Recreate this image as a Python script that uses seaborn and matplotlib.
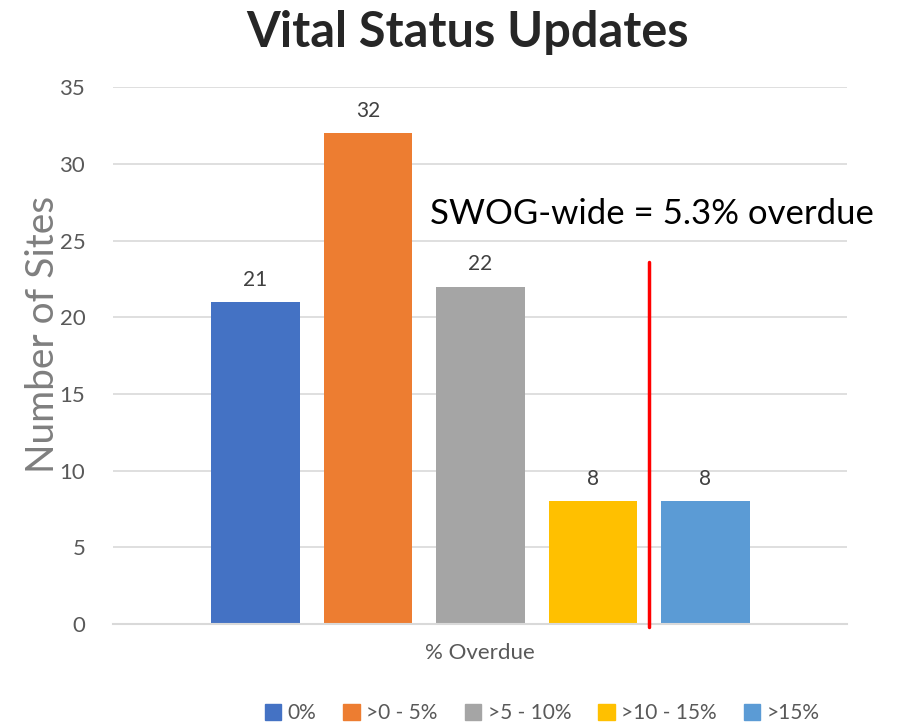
import pandas as pd
import matplotlib.pyplot as plt
import seaborn as sns

categories = ["0%", ">0 - 5%", ">5 - 10%", ">10 - 15%", ">15%"]
sites = [21, 32, 22, 8, 8]
colors = ["#4472C4", "#ED7D31", "#A5A5A5", "#FFC000", "#5B9BD5"]
swog_note = "SWOG-wide = 5.3% overdue"
swog_pos = 3.5
swog_top = 23.6

df = pd.DataFrame({"bucket": categories, "sites": sites})

sns.set_style("white")
plt.rcParams["font.family"] = ["Lato", "DejaVu Sans"]

fig = plt.figure(figsize=(9.05, 7.26), dpi=100)
ax = fig.add_axes([0.1249, 0.1405, 0.811, 0.7395])

sns.barplot(data=df, x="bucket", y="sites", hue="bucket", palette=colors,
            width=0.79, saturation=1, legend=False, linewidth=0, ax=ax)

for i, v in enumerate(sites):
    ax.text(i, v + 0.8, str(v), ha="center", va="bottom", fontsize=15, color="#404040")

ax.set_ylim(0, 35)
ax.set_xlim(-1.267, 5.258)
ax.set_yticks(range(0, 36, 5))
ax.set_xticks([])
ax.grid(axis="y", color="#d9d9d9", linewidth=1.2)
ax.set_axisbelow(True)
for s in ["top", "right", "left"]:
    ax.spines[s].set_visible(False)
ax.spines["bottom"].set_color("#d9d9d9")
ax.spines["bottom"].set_linewidth(1.5)
ax.tick_params(axis="y", length=0, labelsize=16, labelcolor="#595959", pad=20)

ax.set_ylabel("Number of Sites", fontsize=28, color="#7f7f7f")
ax.yaxis.set_label_coords(-0.071, 0.54)
ax.set_xlabel("% Overdue", fontsize=16, color="#595959", labelpad=14)

ax.plot([swog_pos, swog_pos], [-0.2, swog_top], color="red", linewidth=2.5,
        clip_on=False, zorder=5)
ax.text(1.55, 26.7, swog_note, fontsize=25, color="black", va="center", ha="left")

fig.text(0.517, 0.955, "Vital Status Updates", fontsize=35, fontweight="bold",
         ha="center", va="center")

handles = [plt.Rectangle((0, 0), 1, 1, color=c) for c in colors]
fig.legend(handles, categories, loc="center", bbox_to_anchor=(0.599, 0.018), ncol=5,
           frameon=False, fontsize=15, handlelength=0.8, handleheight=0.8,
           handletextpad=0.3, columnspacing=1.3, labelcolor="#595959")

fig.savefig("out.png", dpi=100)
